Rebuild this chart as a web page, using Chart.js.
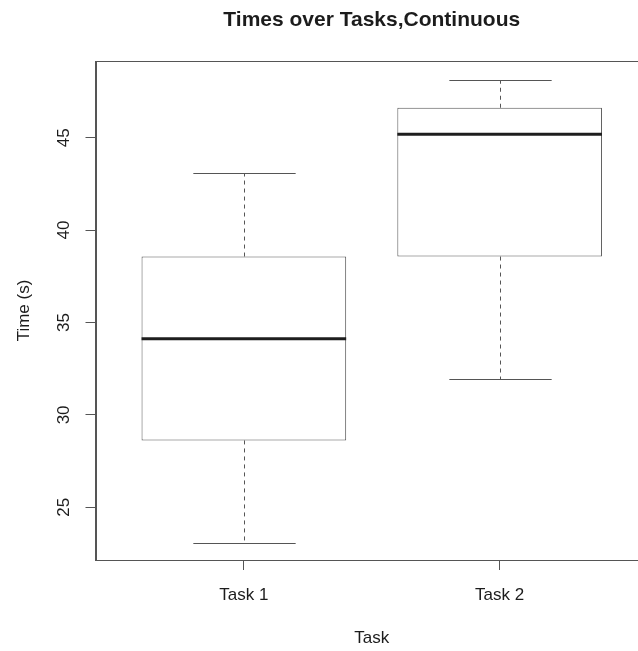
<!DOCTYPE html>
<html><head><meta charset="utf-8">
<script src="https://cdn.jsdelivr.net/npm/chart.js@4.4.1/dist/chart.umd.min.js"></script>
<style>
html,body{margin:0;padding:0;background:#fff;overflow:hidden;}
#wrap{position:absolute;left:0;top:0;width:660px;height:651px;}
</style></head><body>
<div id="wrap"><canvas id="c"></canvas></div>
<script>
const categories = ['Task 1', 'Task 2'];
const whiskerLow = [23.08, 31.94];
const q1 = [28.62, 38.57];
const median = [34.12, 45.18];
const q3 = [38.57, 46.62];
const whiskerHigh = [43.08, 48.12];
const yTicks = [25, 30, 35, 40, 45];

const FONT = '"Liberation Sans", Arial, Helvetica, sans-serif';
const LINE = '#555555';
const TEXT = '#1c1c1c';

const positions = categories.map((c, i) => i + 1);
const boxData = positions.map((p, i) => ({ x: p, y: [q1[i], q3[i]] }));

const boxPlugin = {
  id: 'boxExtras',
  afterDatasetsDraw(chart) {
    const ctx = chart.ctx, ys = chart.scales.y;
    const meta = chart.getDatasetMeta(0);
    ctx.save();
    categories.forEach((c, i) => {
      const bar = meta.data[i];
      const x = Math.round(bar.x) + 0.5, w = bar.width;
      ctx.strokeStyle = LINE; ctx.lineWidth = 1;
      ctx.setLineDash([4, 4]);
      ctx.beginPath();
      ctx.moveTo(x, ys.getPixelForValue(q3[i])); ctx.lineTo(x, ys.getPixelForValue(whiskerHigh[i]));
      ctx.moveTo(x, ys.getPixelForValue(q1[i])); ctx.lineTo(x, ys.getPixelForValue(whiskerLow[i]));
      ctx.stroke();
      ctx.setLineDash([]);
      ctx.beginPath();
      [whiskerHigh[i], whiskerLow[i]].forEach(v => {
        const y = Math.round(ys.getPixelForValue(v)) + 0.5;
        ctx.moveTo(x - w / 4, y); ctx.lineTo(x + w / 4, y);
      });
      ctx.stroke();
      ctx.lineWidth = 3; ctx.strokeStyle = '#1e1e1e';
      ctx.beginPath();
      const ym = ys.getPixelForValue(median[i]);
      ctx.moveTo(bar.x - w / 2, ym); ctx.lineTo(bar.x + w / 2, ym);
      ctx.stroke();
    });
    const a = chart.chartArea;
    ctx.lineWidth = 1; ctx.strokeStyle = LINE;
    ctx.strokeRect(Math.round(a.left) + 0.5, Math.round(a.top) + 0.5, Math.round(a.right - a.left), Math.round(a.bottom - a.top));
    ctx.restore();
  }
};

new Chart(document.getElementById('c'), {
  type: 'bar',
  data: {
    datasets: [{
      data: boxData,
      backgroundColor: '#ffffff',
      borderColor: LINE,
      borderWidth: 1,
      borderSkipped: false,
      barPercentage: 1,
      categoryPercentage: 0.8
    }]
  },
  options: {
    responsive: true,
    maintainAspectRatio: false,
    animation: false,
    devicePixelRatio: 1,
    layout: { padding: { left: 0, right: 12, top: 0, bottom: 0 } },
    plugins: {
      legend: { display: false },
      tooltip: { enabled: false },
      title: {
        display: true,
        fullSize: false,
        text: 'Times over Tasks,Continuous',
        color: TEXT,
        font: { family: FONT, size: 21, weight: 'bold', lineHeight: 1.2 },
        padding: { top: 7.9, bottom: 27.9 }
      }
    },
    scales: {
      x: {
        type: 'linear',
        min: 0.42,
        max: 2.58,
        offset: false,
        afterBuildTicks: s => { s.ticks = positions.map(v => ({ value: v })); },
        ticks: {
          color: TEXT,
          font: { family: FONT, size: 17, lineHeight: 1.2 },
          padding: 15,
          maxRotation: 0,
          autoSkip: false,
          callback: v => categories[v - 1] ?? ''
        },
        grid: { offset: false, drawOnChartArea: false, drawTicks: true, tickLength: 10, tickColor: LINE, color: LINE },
        border: { display: true, color: LINE },
        title: {
          display: true, text: 'Task', color: TEXT,
          font: { family: FONT, size: 17, lineHeight: 1.2 },
          padding: { top: 7.4, bottom: 2.8 }
        }
      },
      y: {
        type: 'linear',
        min: 22.15,
        max: 49.15,
        afterBuildTicks: s => { s.ticks = yTicks.map(v => ({ value: v })); },
        ticks: {
          color: TEXT,
          font: { family: FONT, size: 17, lineHeight: 1.2 },
          padding: 11.5,
          minRotation: 90,
          maxRotation: 90,
          crossAlign: 'center',
          autoSkip: false
        },
        grid: { drawOnChartArea: false, drawTicks: true, tickLength: 10, tickColor: LINE, color: LINE },
        border: { display: true, color: LINE },
        title: {
          display: true, text: 'Time (s)', color: TEXT,
          font: { family: FONT, size: 17, lineHeight: 1.2 },
          padding: { top: 13.8, bottom: 7.9 }
        }
      }
    }
  },
  plugins: [boxPlugin]
});
</script>
</body></html>
